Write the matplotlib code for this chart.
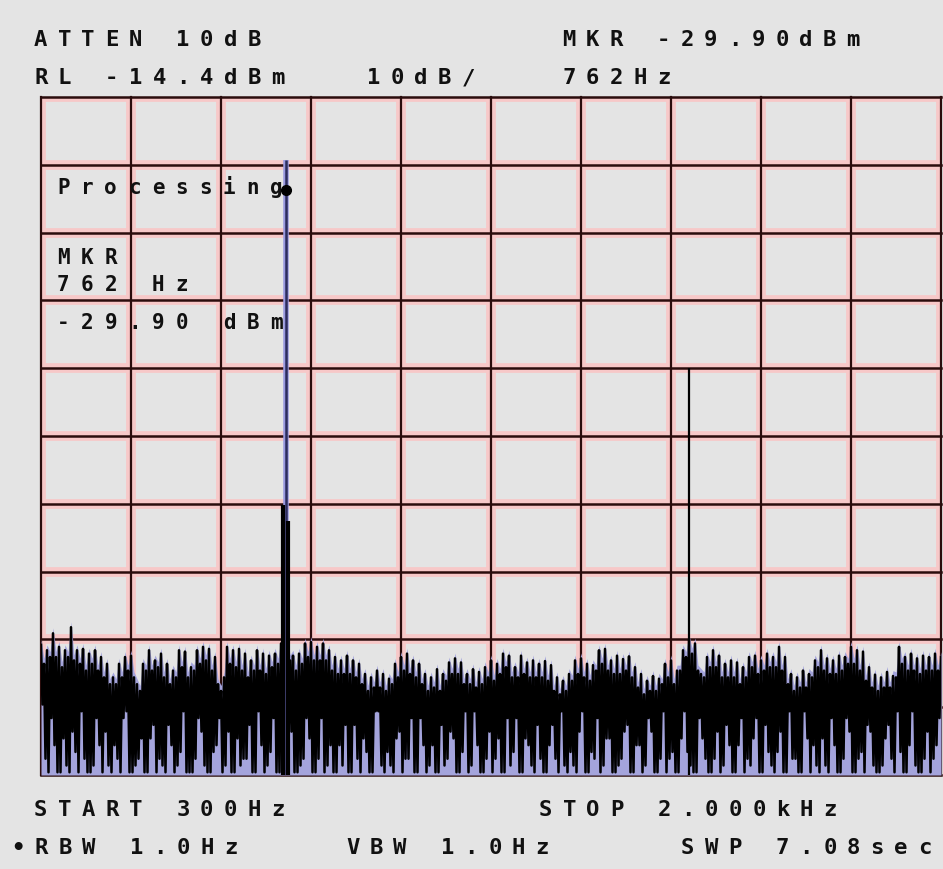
import numpy as np
import matplotlib
matplotlib.use('Agg')
import matplotlib.pyplot as plt

# analyser settings
start_hz = 300
stop_hz = 2000
ref_level = -14.4
db_per_div = 10

# upper envelope of the noise floor, dBm, one reading every ~11 Hz
noise_peaks = [
    -95.2, -96.0, -93.5, -95.5, -96.0, -92.6, -96.0, -95.8, -96.5, -96.0,
    -97.0, -98.0, -100.0, -98.0, -97.0, -96.8, -101.0, -98.0, -96.0, -97.5,
    -96.5, -98.0, -99.0, -96.0, -96.2, -98.5, -96.0, -95.5, -95.8, -97.0,
    -102.0, -95.5, -96.0, -95.8, -96.5, -97.5, -96.0, -96.5, -96.8, -96.5,
    -95.0, -94.0, -96.8, -96.5, -95.0, -94.8, -95.5, -95.0, -96.0, -97.0,
    -97.5, -96.8, -97.5, -98.0, -99.5, -100.0, -99.0, -99.5, -100.2, -98.0,
    -97.0, -96.5, -97.5, -98.0, -99.5, -100.0, -98.8, -99.5, -97.8, -97.2,
    -97.8, -99.5, -98.8, -99.2, -98.5, -97.5, -98.0, -96.5, -96.8, -98.5,
    -96.8, -97.8, -97.5, -98.0, -97.6, -98.2, -100.0, -100.5, -99.5, -97.5,
    -97.2, -98.0, -98.2, -96.0, -95.8, -97.5, -96.8, -97.3, -96.9, -98.5,
    -99.5, -100.5, -99.8, -100.2, -98.0, -97.5, -99.0, -96.0, -94.5, -95.0,
    -99.5, -97.0, -96.0, -96.8, -98.0, -97.5, -97.8, -98.5, -97.0, -96.8,
    -97.5, -96.5, -97.0, -95.5, -97.0, -99.5, -100.0, -99.0, -99.5, -97.5,
    -96.0, -97.2, -97.5, -96.8, -97.0, -95.5, -96.0, -96.2, -98.5, -99.6,
    -100.0, -99.2, -99.8, -95.5, -97.0, -96.5, -97.2, -96.8, -97.0, -96.5,
    -97.0,
]

# secondary bumps half way between the envelope readings, dBm
noise_mids = [
    -98, -97, -97, -98.5, -97, -97.5, -98, -99, -98, -99,
    -100, -101, -101, -100, -99, -100, -102, -99, -99, -98.5,
    -100, -101, -100, -98.5, -100, -99, -98, -97.5, -99, -101,
    -100, -98, -98.5, -99, -100, -99, -99, -99.5, -98.5, -98,
    -97, -97.5, -99, -98, -97, -97.5, -97.5, -97.5, -99, -99.5,
    -99.5, -99.5, -100, -101, -102, -101.5, -101.5, -102, -101, -100,
    -99, -99.5, -100, -101, -102, -101.5, -102, -100.5, -99.5, -99.5,
    -101, -101, -101.5, -101, -100, -100.5, -99.5, -98.5, -100, -100,
    -99.5, -100, -100, -100, -100.5, -102, -102.5, -102, -100.5, -99.5,
    -100, -100.5, -99, -98, -99, -99.5, -99.5, -99, -100, -101.5,
    -102.5, -102, -102, -101, -100, -101, -99, -97, -96.5, -99,
    -100, -98.5, -98.5, -100, -100, -100, -101, -100, -98.5, -99.5,
    -99, -98.5, -98.5, -99, -101, -102, -101.5, -101.5, -100, -98.5,
    -99, -99.5, -99.5, -99, -98, -98, -99, -100.5, -101.5, -102,
    -101.5, -101.5, -100, -98, -99, -99, -99.5, -99, -99, -99,
]

# the dips, dBm: after each envelope reading and after each bump
noise_troughs = [
    -104, -114, -110, -114, -113, -108, -114, -112, -114, -106,
    -114, -113, -110, -114, -105, -114, -112, -114, -109, -114,
    -113, -107, -114, -111, -114, -114, -106, -113, -114, -110,
    -114, -108, -114, -113, -112, -114, -105, -114, -111, -114,
    -114, -109, -114, -113, -106, -114, -112, -114, -110, -114,
    -113, -114, -107, -114, -111, -114, -105, -114, -113, -109,
    -114, -112, -114, -106, -114, -110, -114, -113, -108, -114,
    -111, -114, -105, -114, -112, -114, -109, -114, -113, -106,
    -114, -110, -114, -112, -114, -107, -114, -113, -111, -114,
    -105, -114, -112, -114, -109, -114, -113, -108, -114, -110,
    -114, -106, -114, -112, -114, -111, -114, -105, -113, -114,
    -109, -114, -112, -114, -107, -114, -110, -114, -113, -106,
    -114, -111, -114, -108, -114, -112, -114, -105, -114, -113,
    -109, -114, -110, -114, -106, -114, -112, -114, -108, -114,
    -113, -107, -114, -111, -114, -105, -114, -112, -114, -110,
]
noise_troughs2 = [
    -112, -106, -114, -109, -114, -111, -105, -114, -113, -110,
    -108, -114, -112, -106, -114, -113, -109, -114, -107, -112,
    -114, -110, -113, -105, -114, -112, -108, -114, -111, -106,
    -113, -114, -109, -112, -107, -114, -110, -113, -106, -114,
    -111, -108, -114, -112, -109, -114, -106, -113, -114, -110,
    -107, -114, -112, -109, -114, -105, -113, -111, -114, -108,
    -112, -106, -114, -110, -113, -114, -107, -112, -109, -114,
    -105, -113, -110, -114, -108, -112, -114, -106, -111, -114,
    -109, -113, -107, -114, -110, -112, -105, -114, -113, -108,
    -114, -111, -106, -113, -109, -114, -112, -107, -114, -110,
    -113, -108, -114, -105, -112, -114, -109, -111, -114, -106,
    -112, -114, -108, -113, -110, -114, -106, -112, -109, -114,
    -107, -113, -111, -114, -105, -112, -114, -109, -110, -114,
    -113, -106, -114, -112, -108, -114, -111, -107, -113, -114,
    -109, -112, -105, -114, -110, -113, -114, -108, -112, -106,
]

# the tone, its skirt, and the 2nd harmonic
tone_freqs = [757, 762, 766]
tone_levels = [-74.6, -23.7, -77.0]
harm_freq = 1524
harm_level = -54.4
marker_freq = 762
marker_level = -28.1

W, H = 943, 869
fig = plt.figure(figsize=(W / 100, H / 100), dpi=100)
fig.patch.set_facecolor('#e4e4e4')
ax = fig.add_axes([41 / W, (H - 775) / H, 900 / W, 678 / H])
ax.set_facecolor('#e4e4e4')
bottom = ref_level - 10 * db_per_div
ax.set_xlim(start_hz, stop_hz)
ax.set_ylim(bottom, ref_level)
ax.axis('off')

#graticule: pink glow then the dark line
xs = np.linspace(start_hz, stop_hz, 11)
ys = np.linspace(bottom, ref_level, 11)
for x in xs:
    ax.axvline(x, color='#f7c8c8', lw=7, zorder=1)
for y in ys:
    ax.axhline(y, color='#f7c8c8', lw=7, zorder=1)
for x in xs:
    ax.axvline(x, color='#2a0c0c', lw=1.6, zorder=2, clip_on=False)
for y in ys:
    ax.axhline(y, color='#2a0c0c', lw=1.8, zorder=2, clip_on=False)

# noise trace: peak, dip, bump, dip, next peak ...
pk_f = np.linspace(start_hz, stop_hz, len(noise_peaks))
step = pk_f[1] - pk_f[0]
n = len(noise_mids)
trace_f = np.empty(4 * n + 1)
trace_v = np.empty(4 * n + 1)
trace_f[0::4] = pk_f
trace_f[1::4] = pk_f[:-1] + step * 0.25
trace_f[2::4] = pk_f[:-1] + step * 0.5
trace_f[3::4] = pk_f[:-1] + step * 0.75
trace_v[0::4] = noise_peaks
trace_v[1::4] = noise_troughs
trace_v[2::4] = noise_mids
trace_v[3::4] = noise_troughs2

env_f = np.empty(2 * n + 1)
env_v = np.empty(2 * n + 1)
env_f[0::2] = pk_f
env_f[1::2] = pk_f[:-1] + step * 0.5
env_v[0::2] = noise_peaks
env_v[1::2] = noise_mids
ax.fill_between(env_f, np.array(env_v) + 0.8, bottom, color='#a4a4dc', lw=0, zorder=3)
ax.plot(trace_f, trace_v, color='black', lw=1.8, zorder=4)

# tone
ax.vlines(tone_freqs[1], bottom, tone_levels[1], color='#9a9ae0', lw=4, zorder=4)
ax.vlines(tone_freqs[1], bottom, tone_levels[1], color='#2c2c5c', lw=1.8, zorder=5)
ax.vlines(tone_freqs[0], bottom, tone_levels[0], color='black', lw=3, zorder=5)
ax.vlines(tone_freqs[2], bottom, tone_levels[2], color='black', lw=3, zorder=5)
ax.vlines(harm_freq, bottom, harm_level, color='black', lw=1.6, zorder=5)
ax.plot(marker_freq, marker_level, 'o', color='black', ms=7, zorder=6)


def put(s, px, py, size=16, weight='bold'):
    # fixed character pitch like the analyser's screen font
    for i, ch in enumerate(s):
        if ch == ' ':
            continue
        fig.text((px + i * 23.7) / W, 1 - py / H, ch, fontsize=size,
                 family='DejaVu Sans Mono', weight=weight,
                 ha='left', va='center', color='#111111', zorder=10)


put('ATTEN 10dB', 34, 40)
put('MKR -29.90dBm', 562, 40)
put('RL -14.4dBm', 34, 78)
put('10dB/', 367, 78)
put('762Hz', 562, 78)

put('Processing', 57, 188, size=15)
put('MKR', 57, 258, size=15)
put('762 Hz', 57, 285, size=15)
put('-29.90 dBm', 57, 323, size=15)

put('START 300Hz', 34, 810)
put('STOP 2.000kHz', 539, 810)
put('\u2022RBW 1.0Hz', 11, 848)
put('VBW 1.0Hz', 346, 848)
put('SWP 7.08sec', 681, 848)

fig.savefig('out.png', dpi=100, facecolor=fig.get_facecolor())
